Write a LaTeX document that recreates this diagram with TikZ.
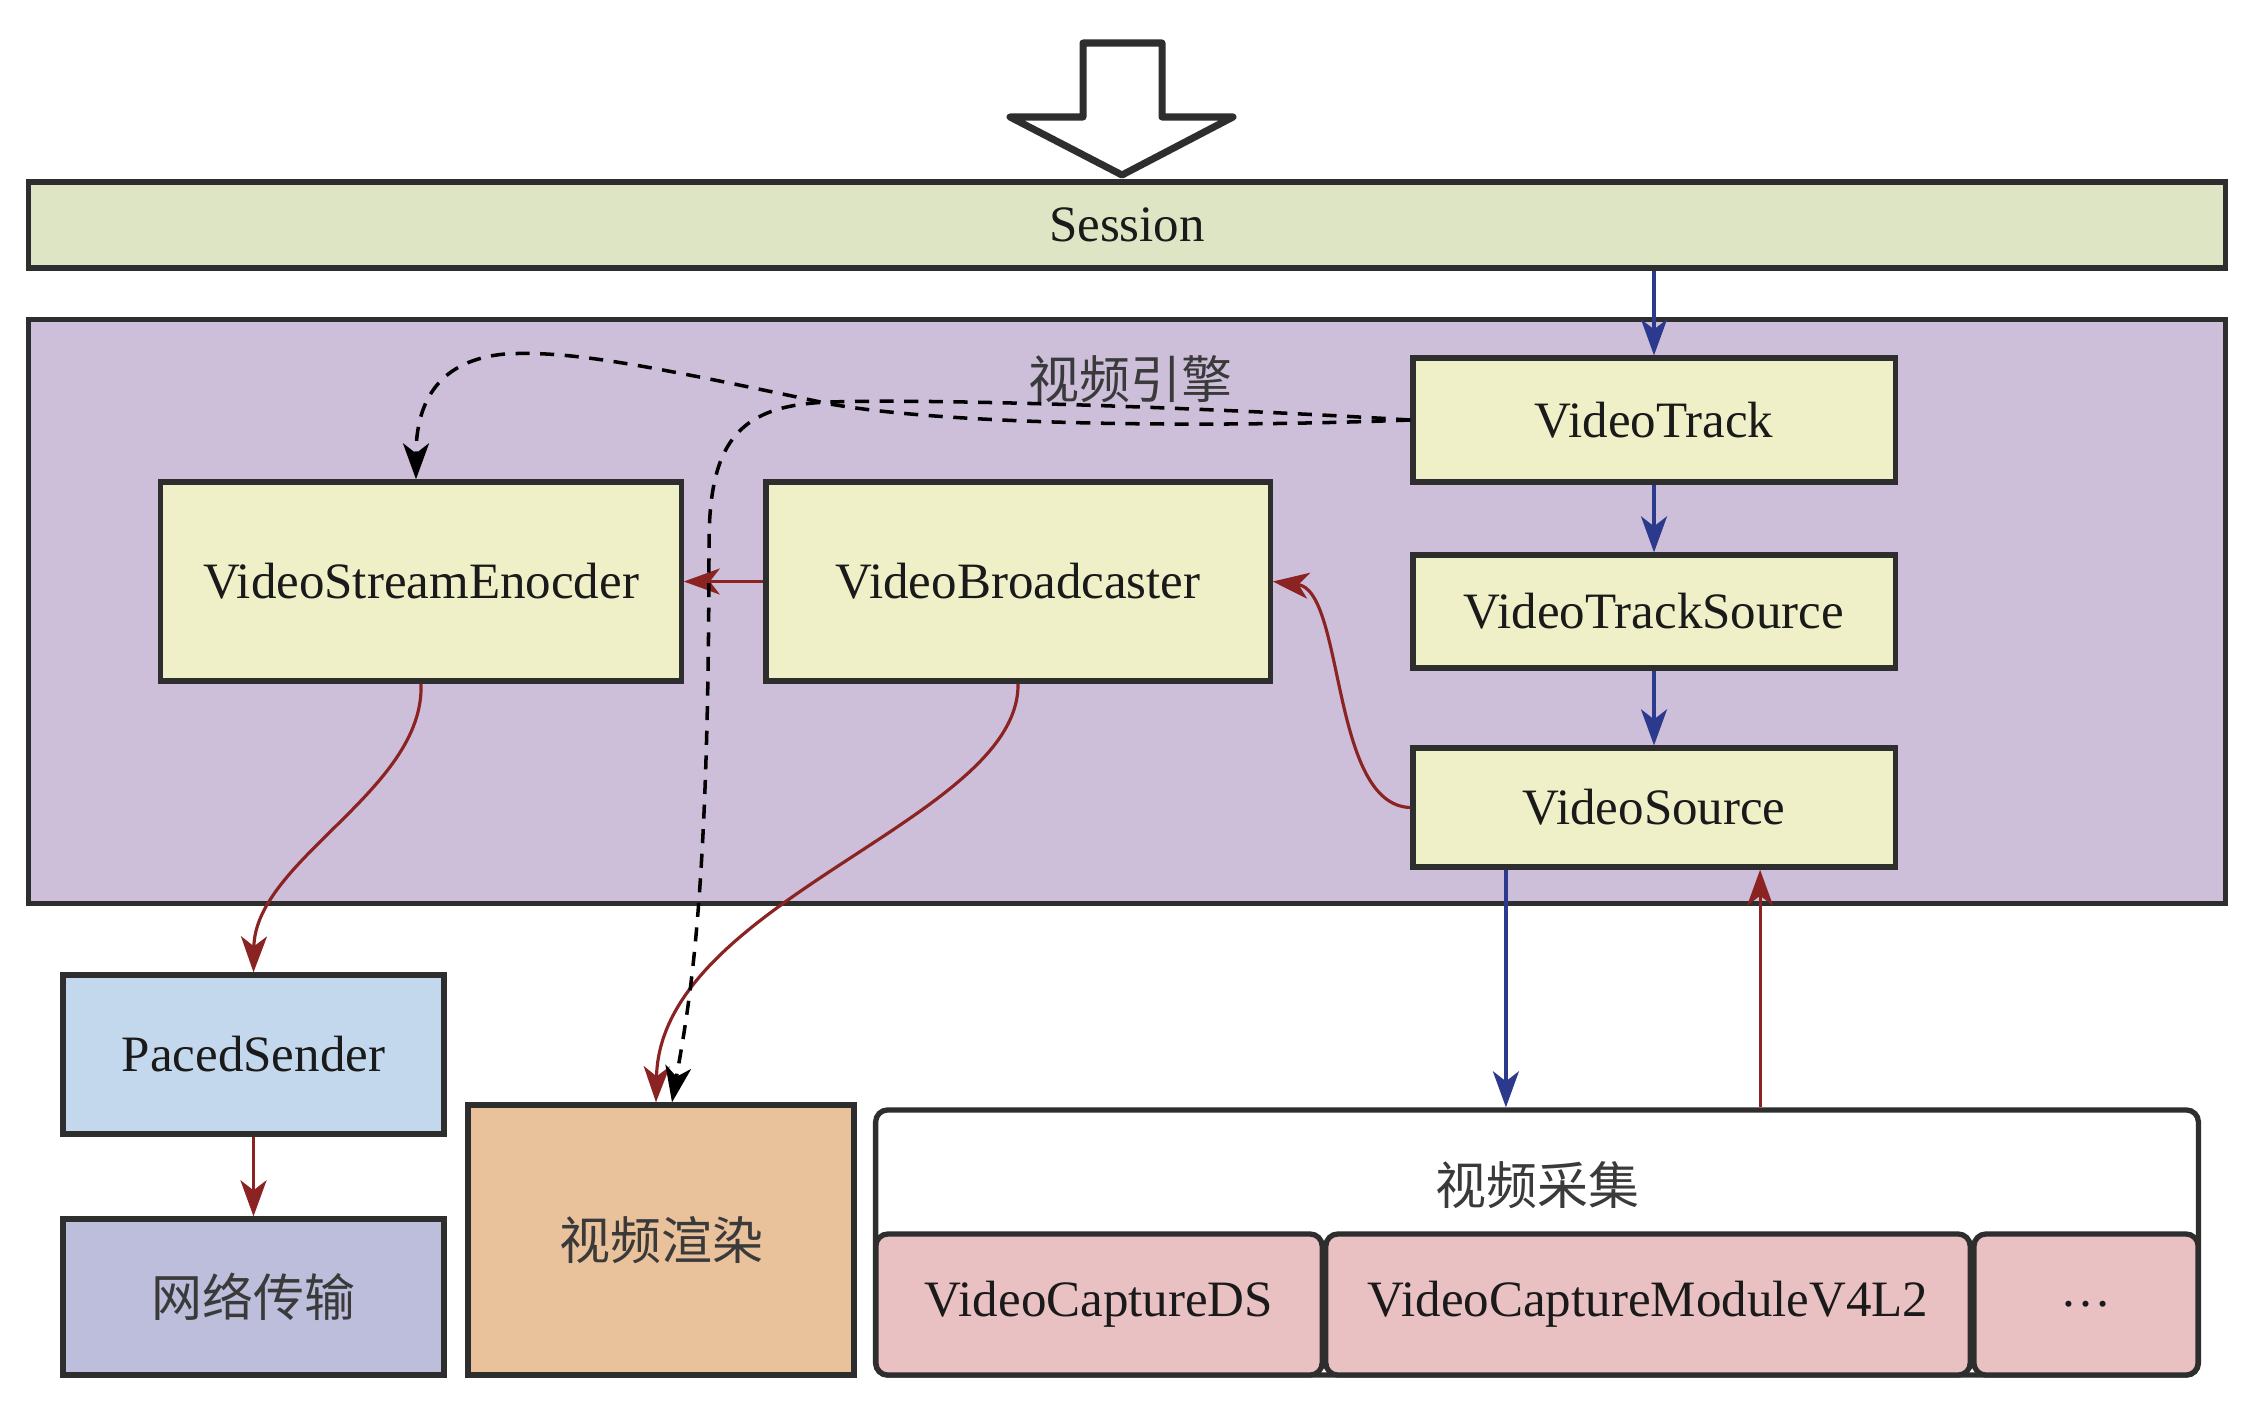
\documentclass[tikz,border=0pt]{standalone}
\usepackage{fontspec}
\setmainfont{Liberation Serif}
\newfontfamily\cjk{Noto Sans CJK SC}
\usetikzlibrary{arrows.meta}
\definecolor{bdr}{HTML}{2E2E2E}
\definecolor{txt}{HTML}{1A1A1A}
\definecolor{cjtxt}{HTML}{3A3A3A}
\definecolor{sess}{HTML}{DDE5C4}
\definecolor{eng}{HTML}{CDBFDA}
\definecolor{ylw}{HTML}{EFF0C8}
\definecolor{psb}{HTML}{C3D8EC}
\definecolor{netc}{HTML}{BDBDDC}
\definecolor{renc}{HTML}{E9C19A}
\definecolor{capc}{HTML}{E9C1C3}
\definecolor{blu}{HTML}{2B3A8C}
\definecolor{redz}{HTML}{8B2323}
\begin{document}
\begin{tikzpicture}[x=0.01cm,y=-0.01cm,
  bx/.style={draw=bdr,line width=1.5pt,inner sep=0pt,font=\fontsize{14.5}{17}\selectfont,text=txt},
  yb/.style={bx,fill=ylw},
  cj/.style={font=\cjk\fontsize{14.5}{17}\selectfont,text=cjtxt},
  arr/.style={line width=0.9pt,-{Stealth[length=0.36cm,width=0.26cm,inset=0.1cm]}},
  barr/.style={arr,blu},
  rarr/.style={arr,redz},
  darr/.style={arr,black,line width=1pt,dash pattern=on 4pt off 3pt}]
\useasboundingbox (0,0) rectangle (2246,1402);
\fill[white] (0,0) rectangle (2246,1402);
% big hollow arrow
\draw[bdr,line width=2pt,line join=round,fill=white] (1083,43) -- (1162,43) -- (1162,117) -- (1233,117) -- (1122,175) -- (1010,117) -- (1083,117) -- cycle;
% session and engine
\node[bx,fill=sess,minimum width=21.96cm,minimum height=0.86cm] (S) at (1127,225) {Session};
\node[bx,fill=eng,minimum width=21.96cm,minimum height=5.83cm] (E) at (1127,611.5) {};
\node[cj] (EL) at (1130,379) {视频引擎};
% engine boxes
\node[yb,minimum width=4.82cm,minimum height=1.24cm] (VT) at (1654,420) {VideoTrack};
\node[yb,minimum width=4.82cm,minimum height=1.13cm] (VTS) at (1654,611.5) {VideoTrackSource};
\node[yb,minimum width=4.82cm,minimum height=1.19cm] (VS) at (1654,807.5) {VideoSource};
\node[yb,minimum width=5.20cm,minimum height=1.99cm] (VSE) at (421,581.5) {VideoStreamEnocder};
\node[yb,minimum width=5.04cm,minimum height=1.99cm] (VB) at (1018,581.5) {VideoBroadcaster};
% lower boxes
\node[bx,fill=psb,minimum width=3.81cm,minimum height=1.59cm] (PS) at (253.5,1054.5) {PacedSender};
\node[bx,fill=netc,minimum width=3.81cm,minimum height=1.56cm,cj] (NET) at (253.5,1297) {网络传输};
\node[bx,fill=renc,minimum width=3.86cm,minimum height=2.70cm,cj] (REN) at (661,1240) {视频渲染};
\node[bx,fill=white,rounded corners=0.12cm,minimum width=13.22cm,minimum height=2.65cm] (CAP) at (1537,1242.5) {};
\node[cj] (CAPL) at (1537,1185) {视频采集};
\node[bx,fill=capc,rounded corners=0.12cm,minimum width=4.46cm,minimum height=1.41cm] (DS) at (1099,1304.5) {VideoCaptureDS};
\node[bx,fill=capc,rounded corners=0.12cm,minimum width=6.44cm,minimum height=1.41cm] (V4) at (1648,1304.5) {VideoCaptureModuleV4L2};
\node[bx,fill=capc,rounded corners=0.12cm,minimum width=2.24cm,minimum height=1.41cm] (DOT) at (2086,1304.5) {…};
% blue arrows
\draw[barr] (VT.north |- S.south) -- (VT.north);
\draw[barr] (VT.south) -- (VTS.north);
\draw[barr] (VTS.south) -- (VS.north);
\draw[barr] ([xshift=-1.48cm]VS.south) -- ([xshift=-1.48cm]VS.south |- CAP.north);
% red arrows
\draw[rarr] ([xshift=1.06cm]VS.south |- CAP.north) -- ([xshift=1.06cm]VS.south);
\draw[rarr] (VS.west) .. controls (1330,805) and (1345,590) .. (VB.east);
\draw[rarr] (VB.west) -- (VSE.east);
\draw[rarr] (VSE.south) .. controls (425,790) and (255,860) .. (PS.north);
\draw[rarr] (VB.south) .. controls (1020,820) and (660,900) .. ([xshift=-0.05cm]REN.north);
\draw[rarr] (PS.south) -- (NET.north);
% dashed arrows
\draw[darr] (VT.west) .. controls (1200,428) and (950,425) .. (830,404) .. controls (650,366) and (570,350) .. (505,354) .. controls (440,360) and (416,400) .. ([xshift=-0.05cm]VSE.north);
\draw[darr] (VT.west) .. controls (1250,410) and (950,398) .. (830,402) .. controls (740,405) and (710,440) .. (709,540) .. controls (709,900) and (690,1000) .. ([xshift=0.11cm]REN.north);
\end{tikzpicture}
\end{document}
